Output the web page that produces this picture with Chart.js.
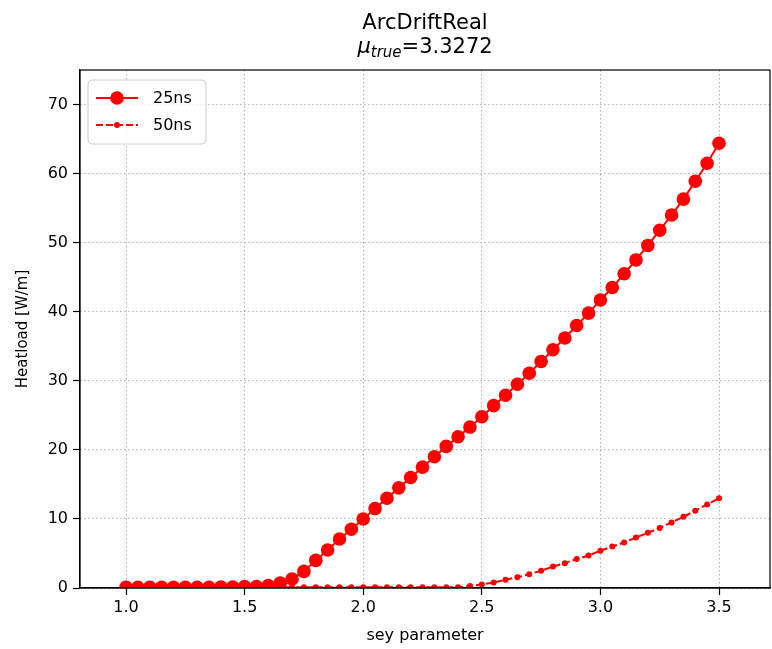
<!DOCTYPE html>
<html>
<head>
<meta charset="utf-8">
<script src="https://cdn.jsdelivr.net/npm/chart.js@4"></script>
<style>
  html, body { margin: 0; padding: 0; background: #fff; }
  canvas { display: block; }
</style>
</head>
<body>
<canvas id="chart" width="772" height="649"></canvas>
<script>
// sey parameter values (x)
const sey = [1.00, 1.05, 1.10, 1.15, 1.20, 1.25, 1.30, 1.35, 1.40, 1.45,
             1.50, 1.55, 1.60, 1.65, 1.70, 1.75, 1.80, 1.85, 1.90, 1.95,
             2.00, 2.05, 2.10, 2.15, 2.20, 2.25, 2.30, 2.35, 2.40, 2.45,
             2.50, 2.55, 2.60, 2.65, 2.70, 2.75, 2.80, 2.85, 2.90, 2.95,
             3.00, 3.05, 3.10, 3.15, 3.20, 3.25, 3.30, 3.35, 3.40, 3.45, 3.50];

// heatload 25ns [W/m]
const heat25 = [0.1, 0.1, 0.1, 0.1, 0.1, 0.1, 0.1, 0.1, 0.15, 0.15,
                0.2, 0.2, 0.35, 0.7, 1.3, 2.4, 4.0, 5.5, 7.1, 8.5,
                10.0, 11.5, 13.0, 14.5, 16.0, 17.5, 19.0, 20.5, 21.9, 23.3,
                24.8, 26.4, 27.9, 29.5, 31.1, 32.8, 34.5, 36.2, 38.0, 39.8,
                41.7, 43.5, 45.5, 47.5, 49.6, 51.8, 54.0, 56.3, 58.9, 61.5, 64.4];

// heatload 50ns [W/m]
const heat50 = [0.1, 0.1, 0.1, 0.1, 0.1, 0.1, 0.1, 0.1, 0.1, 0.1,
                0.1, 0.1, 0.1, 0.1, 0.1, 0.1, 0.1, 0.1, 0.1, 0.1,
                0.1, 0.1, 0.1, 0.1, 0.1, 0.1, 0.1, 0.1, 0.1, 0.3,
                0.5, 0.8, 1.2, 1.55, 2.0, 2.5, 3.1, 3.6, 4.2, 4.7,
                5.4, 6.0, 6.6, 7.3, 8.0, 8.7, 9.5, 10.3, 11.2, 12.1, 13.0];

const xTicks = [1.0, 1.5, 2.0, 2.5, 3.0, 3.5];
const yTicks = [0, 10, 20, 30, 40, 50, 60, 70];

const FONT = "'DejaVu Sans', sans-serif";

// titre sur deux lignes, la 2e avec indice en italique
const titlePlugin = {
  id: 'mplTitle',
  afterDraw(chart) {
    const ctx = chart.ctx;
    const cx = (chart.chartArea.left + chart.chartArea.right) / 2;
    ctx.save();
    ctx.fillStyle = '#000';
    ctx.textBaseline = 'alphabetic';
    ctx.font = `21px ${FONT}`;
    ctx.textAlign = 'center';
    ctx.fillText('ArcDriftReal', cx, 29);

    const big = `italic 21px ${FONT}`, sub = `italic 15px ${FONT}`, norm = `21px ${FONT}`;
    ctx.font = big;  const w1 = ctx.measureText('\u03bc').width;
    ctx.font = sub;  const w2 = ctx.measureText('true').width;
    ctx.font = norm; const w3 = ctx.measureText('=3.3272').width;
    let x = cx - (w1 + w2 + w3) / 2;
    ctx.textAlign = 'left';
    ctx.font = big;  ctx.fillText('\u03bc', x, 53); x += w1;
    ctx.font = sub;  ctx.fillText('true', x, 57); x += w2;
    ctx.font = norm; ctx.fillText('=3.3272', x, 53);
    ctx.restore();
  }
};

// cadre complet autour de la zone de tracé
const framePlugin = {
  id: 'frame',
  afterDatasetsDraw(chart) {
    const {ctx, chartArea: a} = chart;
    ctx.save();
    ctx.strokeStyle = '#000';
    ctx.lineWidth = 1.2;
    ctx.strokeRect(a.left, a.top, a.right - a.left, a.bottom - a.top);
    ctx.restore();
  }
};

// légende dans le coin haut gauche
const legendPlugin = {
  id: 'innerLegend',
  afterDraw(chart) {
    const ctx = chart.ctx;
    const bx = 88, by = 80, bw = 118, bh = 64;
    ctx.save();
    ctx.beginPath();
    ctx.roundRect(bx, by, bw, bh, 4);
    ctx.fillStyle = 'rgba(255,255,255,0.8)';
    ctx.fill();
    ctx.strokeStyle = '#cccccc';
    ctx.lineWidth = 1;
    ctx.stroke();
    chart.data.datasets.forEach((ds, i) => {
      const y = by + 18 + i * 27;
      ctx.strokeStyle = ds.borderColor;
      ctx.lineWidth = ds.borderWidth;
      ctx.setLineDash(ds.borderDash || []);
      ctx.beginPath();
      ctx.moveTo(96, y);
      ctx.lineTo(138, y);
      ctx.stroke();
      ctx.setLineDash([]);
      ctx.fillStyle = ds.pointBackgroundColor;
      ctx.beginPath();
      ctx.arc(117, y, ds.pointRadius, 0, Math.PI * 2);
      ctx.fill();
      ctx.fillStyle = '#000';
      ctx.font = `16px ${FONT}`;
      ctx.textBaseline = 'middle';
      ctx.textAlign = 'left';
      ctx.fillText(ds.label, 153, y + 1);
    });
    ctx.restore();
  }
};

new Chart(document.getElementById('chart'), {
  type: 'line',
  data: {
    datasets: [
      {
        label: '25ns',
        data: sey.map((x, i) => ({x, y: heat25[i]})),
        borderColor: '#ff0000',
        backgroundColor: '#ff0000',
        pointBackgroundColor: '#ff0000',
        pointBorderWidth: 0,
        borderWidth: 2,
        pointRadius: 6.8,
        clip: 0
      },
      {
        label: '50ns',
        data: sey.map((x, i) => ({x, y: heat50[i]})),
        borderColor: '#ff0000',
        backgroundColor: '#ff0000',
        pointBackgroundColor: '#ff0000',
        pointBorderWidth: 0,
        borderWidth: 2,
        borderDash: [7, 3],
        pointRadius: 3,
        clip: 0
      }
    ]
  },
  options: {
    responsive: false,
    animation: false,
    layout: { autoPadding: false, padding: { top: 70, right: 2, left: 0, bottom: 0 } },
    plugins: { legend: { display: false }, title: { display: false }, tooltip: { enabled: false } },
    scales: {
      x: {
        type: 'linear',
        min: 0.806, max: 3.715,
        afterBuildTicks: s => { s.ticks = xTicks.map(v => ({value: v})); },
        afterFit: s => { s.height = 61; s.paddingLeft = 0; s.paddingRight = 0; },
        grid: { color: '#b0b0b0', lineWidth: 1, tickLength: 7, tickColor: '#000', tickWidth: 1.2, tickBorderDash: [] },
        border: { display: true, color: '#000', width: 1.2, dash: [1.5, 2.5] },
        ticks: { color: '#000', font: { family: FONT, size: 16 }, padding: 3, maxRotation: 0,
                 callback: v => v.toFixed(1) },
        title: { display: true, text: 'sey parameter', color: '#000',
                 font: { family: FONT, size: 16 }, padding: { top: 0, bottom: 4 } }
      },
      y: {
        type: 'linear',
        min: 0, max: 75,
        afterBuildTicks: s => { s.ticks = yTicks.map(v => ({value: v})); },
        afterFit: s => { s.width = 80; },
        grid: { color: '#b0b0b0', lineWidth: 1, tickLength: 7, tickColor: '#000', tickWidth: 1.2, tickBorderDash: [] },
        border: { display: true, color: '#000', width: 1.2, dash: [1.5, 2.5] },
        ticks: { color: '#000', font: { family: FONT, size: 16 }, padding: 5 },
        title: { display: true, text: 'Heatload [W/m]', color: '#000',
                 font: { family: FONT, size: 15 }, padding: { top: 14, bottom: 0 } }
      }
    }
  },
  plugins: [titlePlugin, framePlugin, legendPlugin]
});
</script>
</body>
</html>
